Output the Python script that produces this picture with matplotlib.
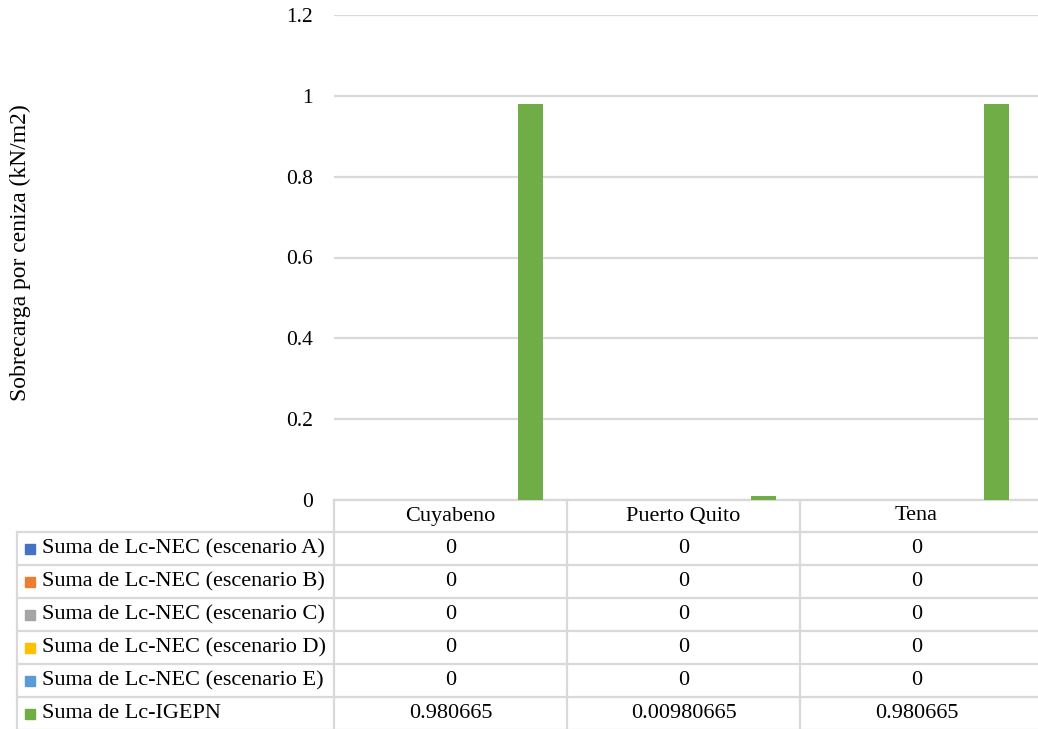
import numpy as np
import matplotlib.pyplot as plt
from matplotlib.transforms import blended_transform_factory

# Sites and series
sitios = ['Cuyabeno', 'Puerto Quito', 'Tena']
series = ['Suma de Lc-NEC (escenario A)', 'Suma de Lc-NEC (escenario B)',
          'Suma de Lc-NEC (escenario C)', 'Suma de Lc-NEC (escenario D)',
          'Suma de Lc-NEC (escenario E)', 'Suma de Lc-IGEPN']
lc_nec_a = [0, 0, 0]
lc_nec_b = [0, 0, 0]
lc_nec_c = [0, 0, 0]
lc_nec_d = [0, 0, 0]
lc_nec_e = [0, 0, 0]
lc_igepn = [0.980665, 0.00980665, 0.980665]
valores = [lc_nec_a, lc_nec_b, lc_nec_c, lc_nec_d, lc_nec_e, lc_igepn]
etiquetas = [[f'{v:.10g}' for v in fila] for fila in valores]
colores = ['#4472C4', '#ED7D31', '#A5A5A5', '#FFC000', '#5B9BD5', '#70AD47']

plt.rcParams['font.family'] = ['Liberation Serif', 'DejaVu Serif']
W, H = 1038, 729
fig = plt.figure(figsize=(W / 100, H / 100), dpi=100)

# plot area in pixels
x0, x1 = 334, 1040
y_top, y_bot = 15, 500
ax = fig.add_axes([x0 / W, (H - y_bot) / H, (x1 - x0) / W, (y_bot - y_top) / H])
cat_w = 233.0
ax.set_xlim(-0.5, -0.5 + (x1 - x0) / cat_w)
ax.set_ylim(0, 1.2)
ax.set_yticks(np.arange(0, 1.21, 0.2))
ax.set_yticklabels(['0', '0.2', '0.4', '0.6', '0.8', '1', '1.2'])
ax.set_xticks([])
ax.tick_params(axis='y', length=0, pad=15, labelsize=15.5)
for s in ax.spines.values():
    s.set_visible(False)
ax.yaxis.grid(True, color='#D9D9D9', lw=1.6)
ax.set_axisbelow(True)

# bars
x = np.arange(len(sitios))
paso, ancho = 0.137, 0.107
for i, (vals, c) in enumerate(zip(valores, colores)):
    ax.bar(x + (i - 2.5) * paso, vals, width=ancho, color=c, zorder=3)

ax.set_ylabel('Sobrecarga por ceniza (kN/m2)', fontsize=17, va='center')
ax.yaxis.set_label_coords((20 - x0) / (x1 - x0), (y_bot - 253) / (y_bot - y_top))

# data table under the plot
def fy(py):
    return (y_bot - py) / (y_bot - y_top)

def fx(px):
    return (px - x0) / (x1 - x0)

tr = blended_transform_factory(ax.transData, ax.transAxes)
linea = dict(color='#D9D9D9', lw=1.6, clip_on=False, zorder=1)
filas_y = [532 + 33 * k for k in range(7)]
xr = ax.get_xlim()[1]
ax.plot([-0.5, xr], [fy(y_bot)] * 2, transform=tr, **linea)
for yy in filas_y:
    ax.plot([fx(17), 1.0], [fy(yy)] * 2, transform=ax.transAxes, **linea)
ax.plot([fx(17)] * 2, [fy(532), fy(730)], transform=ax.transAxes, **linea)
for xb in np.arange(len(sitios)) - 0.5:
    ax.plot([xb, xb], [fy(y_bot), fy(730)], transform=tr, **linea)

for j, sitio in enumerate(sitios):
    ax.text(x[j], fy(516), sitio, transform=tr, ha='center', va='center',
            fontsize=16, clip_on=False)
for i, nombre in enumerate(series):
    yc = fy(filas_y[i] + 16.5)
    ax.plot([fx(30)], [yc], marker='s', ms=6.5, color=colores[i],
            transform=ax.transAxes, clip_on=False, lw=0)
    ax.text(fx(42), yc, nombre, transform=ax.transAxes, ha='left', va='center',
            fontsize=16, clip_on=False)
    for j in range(len(sitios)):
        ax.text(x[j], yc, etiquetas[i][j], transform=tr, ha='center',
                va='center', fontsize=16, clip_on=False)

fig.savefig('out.png', dpi=100)
